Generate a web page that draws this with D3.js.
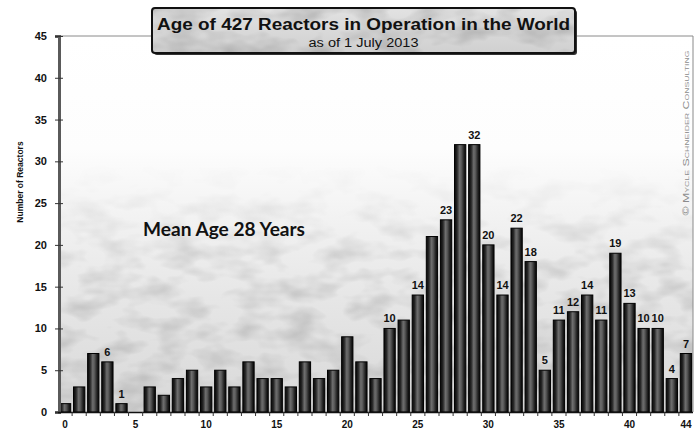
<!DOCTYPE html>
<html>
<head>
<meta charset="utf-8">
<script src="https://cdn.jsdelivr.net/npm/d3@7/dist/d3.min.js"></script>
<style>
  body { margin: 0; background: #fff; }
  svg { display: block; }
</style>
</head>
<body>
<svg id="chart" width="700" height="432"></svg>
<script>
// Age of reactors in years (0 .. 44)
const ages = [0, 1, 2, 3, 4, 5, 6, 7, 8, 9, 10, 11, 12, 13, 14, 15, 16, 17, 18, 19, 20, 21,
  22, 23, 24, 25, 26, 27, 28, 29, 30, 31, 32, 33, 34, 35, 36, 37, 38, 39, 40, 41, 42, 43, 44];
// Number of reactors in operation at each age
const reactorCounts = [1, 3, 7, 6, 1, 0, 3, 2, 4, 5, 3, 5, 3, 6, 4, 4, 3, 6, 4, 5, 9, 6,
  4, 10, 11, 14, 21, 23, 32, 32, 20, 14, 22, 18, 5, 11, 12, 14, 11, 19, 13, 10, 10, 4, 7];
// Ages whose bars carry a value label
const labeledAges = [3, 4, 23, 25, 27, 29, 30, 31, 32, 33, 34, 35, 36, 37, 38, 39, 40, 41, 42, 43, 44];
const yTickValues = [0, 5, 10, 15, 20, 25, 30, 35, 40, 45];
const xTickLabels = [0, 5, 10, 15, 20, 25, 30, 35, 40, 44];

const titleText = "Age of 427 Reactors in Operation in the World";
const subtitleText = "as of 1 July 2013";
const noteText = "Mean Age 28 Years";
const yAxisTitle = "Number of Reactors";
const creditText = "© Mycle Schneider Consulting";

const data = ages.map((a, i) => ({ age: a, count: reactorCounts[i] }));

const svg = d3.select("#chart");
const plot = { left: 58, right: 693, top: 36, bottom: 412 };

const x = d3.scaleBand().domain(ages).range([plot.left, plot.right]).paddingInner(0.2).paddingOuter(0.1);
const y = d3.scaleLinear().domain([0, 45]).range([plot.bottom, plot.top]);

const defs = svg.append("defs");

// plot background: white at the top fading to light grey at the base
const bg = defs.append("linearGradient").attr("id", "bgGrad")
  .attr("x1", 0).attr("y1", 0).attr("x2", 0).attr("y2", 1);
[[0, "#ffffff"], [0.3, "#fdfdfd"], [0.5, "#f1f1f1"], [0.7, "#e6e6e6"], [1, "#d8d8d8"]]
  .forEach(([o, c]) => bg.append("stop").attr("offset", o).attr("stop-color", c));

// fade-in mask for the texture layer
const fade = defs.append("linearGradient").attr("id", "fadeGrad")
  .attr("x1", 0).attr("y1", 0).attr("x2", 0).attr("y2", 1);
[[0, "#000"], [0.45, "#fff"], [1, "#fff"]]
  .forEach(([o, c]) => fade.append("stop").attr("offset", o).attr("stop-color", c));

// mottled paper texture
const tex = defs.append("filter").attr("id", "mottle").attr("x", 0).attr("y", 0).attr("width", 1).attr("height", 1);
tex.append("feTurbulence").attr("type", "fractalNoise").attr("baseFrequency", "0.025 0.05")
  .attr("numOctaves", 3).attr("seed", 7).attr("result", "noise");
tex.append("feColorMatrix").attr("in", "noise").attr("type", "matrix")
  .attr("values", "0 0 0 0 0  0 0 0 0 0  0 0 0 0 0  0 0 0 -1.0 0.6").attr("result", "shade");
tex.append("feComposite").attr("in", "shade").attr("in2", "SourceGraphic").attr("operator", "in");

// cylindrical shading for the bars
const barGrad = defs.append("linearGradient").attr("id", "barGrad")
  .attr("x1", 0).attr("y1", 0).attr("x2", 1).attr("y2", 0);
[[0, "#080808"], [0.22, "#262626"], [0.45, "#6e6e6e"], [0.6, "#5a5a5a"], [0.85, "#1e1e1e"], [1, "#080808"]]
  .forEach(([o, c]) => barGrad.append("stop").attr("offset", o).attr("stop-color", c));

// title box fill
const boxGrad = defs.append("linearGradient").attr("id", "boxGrad")
  .attr("x1", 0).attr("y1", 0).attr("x2", 0).attr("y2", 1);
[[0, "#e2e2e2"], [1, "#d0d0d0"]]
  .forEach(([o, c]) => boxGrad.append("stop").attr("offset", o).attr("stop-color", c));

// plot background
svg.append("rect")
  .attr("x", plot.left).attr("y", plot.top)
  .attr("width", plot.right - plot.left).attr("height", plot.bottom - plot.top)
  .attr("fill", "url(#bgGrad)");

const texTop = y(30);
const mask = defs.append("mask").attr("id", "fadeMask").attr("maskUnits", "userSpaceOnUse");
mask.append("rect")
  .attr("x", plot.left).attr("y", texTop)
  .attr("width", plot.right - plot.left).attr("height", plot.bottom - texTop)
  .attr("fill", "url(#fadeGrad)");
svg.append("rect")
  .attr("x", plot.left).attr("y", texTop)
  .attr("width", plot.right - plot.left).attr("height", plot.bottom - texTop)
  .attr("fill", "#b0b0b0").attr("opacity", 0.3)
  .attr("filter", "url(#mottle)")
  .attr("mask", "url(#fadeMask)");

// frame: top and right edges
svg.append("path")
  .attr("d", `M${plot.left},${plot.top}H${plot.right}V${plot.bottom}`)
  .attr("fill", "none").attr("stroke", "#8a8a8a").attr("stroke-width", 1);

// bars
svg.append("g").selectAll("rect").data(data.filter(d => d.count > 0)).join("rect")
  .attr("x", d => x(d.age))
  .attr("y", d => y(d.count))
  .attr("width", x.bandwidth())
  .attr("height", d => y(0) - y(d.count))
  .attr("fill", "url(#barGrad)")
  .attr("stroke", "#000").attr("stroke-width", 1);

// value labels
svg.append("g").selectAll("text").data(data.filter(d => labeledAges.includes(d.age))).join("text")
  .attr("x", d => x(d.age) + x.bandwidth() / 2)
  .attr("y", d => y(d.count) - 6)
  .attr("text-anchor", "middle")
  .attr("font-family", "Liberation Sans, Arial, sans-serif")
  .attr("font-weight", "bold").attr("font-size", 11).attr("fill", "#111")
  .text(d => d.count);

// y axis
const yAxis = svg.append("g").attr("transform", `translate(${plot.left + 1},0)`)
  .call(d3.axisLeft(y).tickValues(yTickValues).tickSize(4).tickPadding(8));
yAxis.select(".domain").attr("stroke", "#5a5a5a").attr("stroke-width", 3);
yAxis.selectAll(".tick line").attr("stroke", "#333").attr("x2", 4).attr("x1", -4);
yAxis.selectAll(".tick text")
  .attr("font-family", "Liberation Sans, Arial, sans-serif")
  .attr("font-weight", "bold").attr("font-size", 11).attr("fill", "#111");

// x axis: tick marks between bars, labels under selected ages
const xAxisG = svg.append("g");
xAxisG.append("line")
  .attr("x1", plot.left).attr("x2", plot.right)
  .attr("y1", plot.bottom + 0.5).attr("y2", plot.bottom + 0.5)
  .attr("stroke", "#111").attr("stroke-width", 1.5);
xAxisG.selectAll("line.tk").data(ages.slice(1)).join("line").attr("class", "tk")
  .attr("x1", d => x(d) - x.step() * x.paddingInner() / 2)
  .attr("x2", d => x(d) - x.step() * x.paddingInner() / 2)
  .attr("y1", plot.bottom).attr("y2", plot.bottom + 4)
  .attr("stroke", "#333");
xAxisG.selectAll("text").data(xTickLabels).join("text")
  .attr("x", d => x(d) + x.bandwidth() / 2)
  .attr("y", plot.bottom + 16)
  .attr("text-anchor", "middle")
  .attr("font-family", "Liberation Sans, Arial, sans-serif")
  .attr("font-weight", "bold").attr("font-size", 10).attr("fill", "#111")
  .text(d => d);

// y axis title
svg.append("text")
  .attr("transform", "translate(23,182) rotate(-90)")
  .attr("text-anchor", "middle")
  .attr("font-family", "Liberation Sans, Arial, sans-serif")
  .attr("font-weight", "bold").attr("font-size", 8.5).attr("fill", "#111")
  .text(yAxisTitle);

// annotation
svg.append("text")
  .attr("x", 143).attr("y", 236)
  .attr("font-family", "Lato, 'Open Sans', sans-serif")
  .attr("font-weight", "bold").attr("font-size", 18).attr("fill", "#111")
  .attr("textLength", 162).attr("lengthAdjust", "spacingAndGlyphs")
  .text(noteText);

// credit, running up the right edge
svg.append("text")
  .attr("transform", "translate(689,133) rotate(-90)")
  .attr("text-anchor", "middle")
  .attr("font-family", "Liberation Sans, Arial, sans-serif")
  .attr("font-size", 8.5).attr("fill", "#8c8c8c")
  .style("font-variant", "small-caps")
  .attr("textLength", 165).attr("lengthAdjust", "spacingAndGlyphs")
  .text(creditText);

// title box
const box = { x: 152, y: 8, w: 423, h: 45 };
svg.append("rect")
  .attr("x", box.x + 2).attr("y", box.y + 2).attr("width", box.w).attr("height", box.h)
  .attr("rx", 3).attr("fill", "#333");
svg.append("rect")
  .attr("x", box.x).attr("y", box.y).attr("width", box.w).attr("height", box.h)
  .attr("rx", 3).attr("fill", "url(#boxGrad)").attr("stroke", "#111").attr("stroke-width", 2);
svg.append("rect")
  .attr("x", box.x + 1).attr("y", box.y + 1).attr("width", box.w - 2).attr("height", box.h - 2)
  .attr("fill", "#a0a0a0").attr("opacity", 0.35).attr("filter", "url(#mottle)");
svg.append("text")
  .attr("x", box.x + box.w / 2).attr("y", 30)
  .attr("text-anchor", "middle")
  .attr("font-family", "Liberation Sans, Arial, sans-serif")
  .attr("font-weight", "bold").attr("font-size", 16).attr("fill", "#111")
  .attr("textLength", 413).attr("lengthAdjust", "spacingAndGlyphs")
  .text(titleText);
svg.append("text")
  .attr("x", box.x + box.w / 2).attr("y", 47)
  .attr("text-anchor", "middle")
  .attr("font-family", "Liberation Sans, Arial, sans-serif")
  .attr("font-size", 12).attr("fill", "#111")
  .attr("textLength", 110).attr("lengthAdjust", "spacingAndGlyphs")
  .text(subtitleText);
</script>
</body>
</html>
